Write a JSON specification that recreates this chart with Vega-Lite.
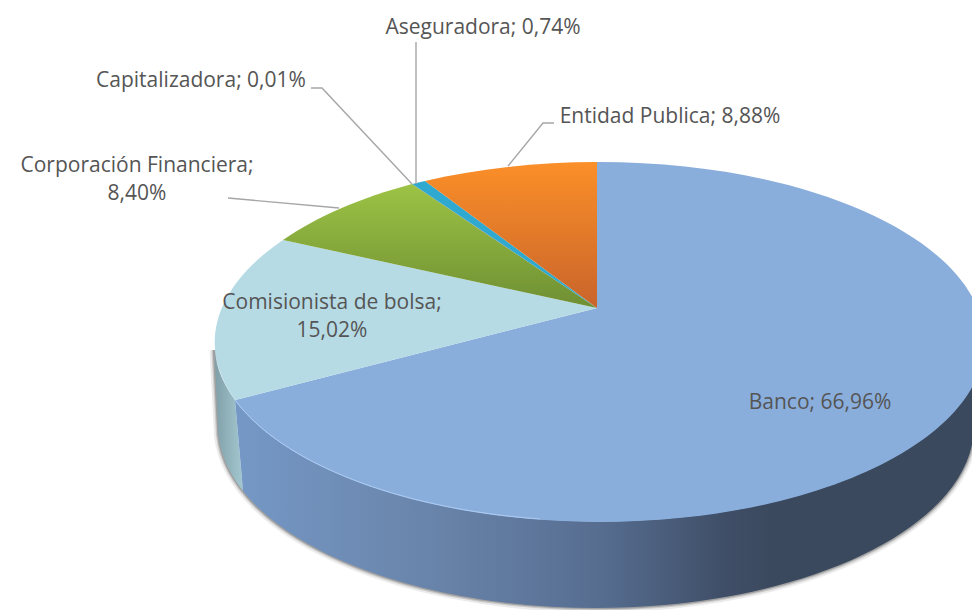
{"$schema":"https://vega.github.io/schema/vega-lite/v6.json","width":972,"height":610,"autosize":{"type":"none"},"padding":0,"background":"#ffffff","config":{"view":{"stroke":null}},"datasets":{"porciones":[{"categoria":"Banco","porcentaje":66.96,"etiqueta":"Banco; 66,96%"},{"categoria":"Comisionista de bolsa","porcentaje":15.02,"etiqueta":"Comisionista de bolsa;\n15,02%"},{"categoria":"Corporación Financiera","porcentaje":8.40,"etiqueta":"Corporación Financiera;\n8,40%"},{"categoria":"Capitalizadora","porcentaje":0.01,"etiqueta":"Capitalizadora; 0,01%"},{"categoria":"Aseguradora","porcentaje":0.74,"etiqueta":"Aseguradora; 0,74%"},{"categoria":"Entidad Publica","porcentaje":8.88,"etiqueta":"Entidad Publica; 8,88%"}]},"data":{"name":"porciones"},"encoding":{"x":{"datum":0,"type":"quantitative","scale":{"domain":[0,972]},"axis":null},"y":{"datum":0,"type":"quantitative","scale":{"domain":[610,0]},"axis":null}},"layer":[
{"transform":[{"filter":"datum.categoria==='Banco'"}],"mark":{"type":"point","size":4,"opacity":1,"filled":false,"stroke":"#000000","strokeOpacity":0.08,"strokeWidth":9,"shape":"M974,426 A378,182 0 0 1 218,426 L214,350"}},
{"transform":[{"filter":"datum.categoria==='Banco'"}],"mark":{"type":"point","size":4,"opacity":1,"filled":false,"stroke":"#000000","strokeOpacity":0.14,"strokeWidth":5,"shape":"M974,426 A378,182 0 0 1 218,426 L214,350"}},
{"transform":[{"filter":"datum.categoria==='Banco'"}],"mark":{"type":"point","size":4,"opacity":1,"filled":false,"stroke":"#000000","strokeOpacity":0.2,"strokeWidth":2.5,"shape":"M974,426 A378,182 0 0 1 218,426 L214,350"}},
{"transform":[{"filter":"datum.categoria==='Comisionista de bolsa'"}],"mark":{"type":"point","size":4,"opacity":1,"filled":true,"stroke":null,"fill":{"gradient":"linear","x1":0,"y1":0,"x2":1,"y2":0,"stops":[{"offset":0,"color":"#7f9fa8"},{"offset":1,"color":"#a3c7d0"}]},"shape":"M214,342 A385,180 0 0 0 235,400 L243,491 A378,182 0 0 1 218,426 Z"}},
{"transform":[{"filter":"datum.categoria==='Banco'"}],"mark":{"type":"point","size":4,"opacity":1,"filled":true,"stroke":null,"fill":{"gradient":"linear","x1":0,"y1":0,"x2":1,"y2":0,"stops":[{"offset":0,"color":"#7598c6"},{"offset":0.25,"color":"#6a85ab"},{"offset":0.49,"color":"#566d90"},{"offset":0.65,"color":"#404f68"},{"offset":0.72,"color":"#3a495d"},{"offset":1,"color":"#3a495d"}]},"shape":"M235,400 A385,180 0 0 0 984,342 L974,426 A378,182 0 0 1 243,491 Z"}},
{"transform":[{"filter":"datum.categoria==='Banco'"}],"mark":{"type":"point","size":4,"opacity":1,"filled":true,"stroke":null,"fill":"#8aaedc","shape":"M597,308 L597,162 A385,180 0 1 1 235,400 Z"}},
{"transform":[{"filter":"datum.categoria==='Comisionista de bolsa'"}],"mark":{"type":"point","size":4,"opacity":1,"filled":true,"stroke":null,"fill":"#b7dbe5","shape":"M597,308 L235,400 A385,180 0 0 1 283,240 Z"}},
{"transform":[{"filter":"datum.categoria==='Corporación Financiera'"}],"mark":{"type":"point","size":4,"opacity":1,"filled":true,"stroke":null,"fill":{"gradient":"linear","x1":0,"y1":0,"x2":0,"y2":1,"stops":[{"offset":0,"color":"#9dc345"},{"offset":1,"color":"#6f8f33"}]},"shape":"M597,308 L283,240 A385,180 0 0 1 412,184 Z"}},
{"transform":[{"filter":"datum.categoria==='Capitalizadora'"}],"mark":{"type":"point","size":4,"opacity":1,"filled":true,"stroke":null,"fill":"#c0504d","shape":"M597,308 L412,184 L412.2,184 Z"}},
{"transform":[{"filter":"datum.categoria==='Aseguradora'"}],"mark":{"type":"point","size":4,"opacity":1,"filled":true,"stroke":null,"fill":"#2fa9cf","shape":"M597,308 L412.2,184 A385,180 0 0 1 425,181 Z"}},
{"transform":[{"filter":"datum.categoria==='Entidad Publica'"}],"mark":{"type":"point","size":4,"opacity":1,"filled":true,"stroke":null,"fill":{"gradient":"linear","x1":0,"y1":0,"x2":0,"y2":1,"stops":[{"offset":0,"color":"#fb8f28"},{"offset":1,"color":"#c9642b"}]},"shape":"M597,308 L425,181 A385,180 0 0 1 597,162 Z"}},
{"transform":[{"filter":"datum.categoria==='Banco'"}],"mark":{"type":"point","size":4,"opacity":1,"filled":false,"stroke":"#b4d2f6","strokeOpacity":0.8,"strokeWidth":1,"shape":"M235,400 A385,180 0 0 0 540,519"}},
{"transform":[{"filter":"datum.categoria==='Capitalizadora'"}],"mark":{"type":"point","size":4,"opacity":1,"filled":false,"stroke":"#a6a6a6","strokeWidth":1.4,"shape":"M311,88 L322,88 L412,184"}},
{"transform":[{"filter":"datum.categoria==='Aseguradora'"}],"mark":{"type":"point","size":4,"opacity":1,"filled":false,"stroke":"#a6a6a6","strokeWidth":1.4,"shape":"M416,42 L416,184"}},
{"transform":[{"filter":"datum.categoria==='Entidad Publica'"}],"mark":{"type":"point","size":4,"opacity":1,"filled":false,"stroke":"#a6a6a6","strokeWidth":1.4,"shape":"M554,123 L543,123 L508,166"}},
{"transform":[{"filter":"datum.categoria==='Corporación Financiera'"}],"mark":{"type":"point","size":4,"opacity":1,"filled":false,"stroke":"#a6a6a6","strokeWidth":1.4,"shape":"M228,198 L339,208"}},
{"transform":[{"filter":"datum.categoria==='Banco'"}],"mark":{"type":"text","font":"Open Sans","fontSize":21,"fill":"#555555","align":"center","baseline":"middle"},"encoding":{"x":{"datum":820},"y":{"datum":403},"text":{"field":"etiqueta"}}},
{"transform":[{"filter":"datum.categoria==='Comisionista de bolsa'"}],"mark":{"type":"text","font":"Open Sans","fontSize":21,"fill":"#555555","align":"center","baseline":"middle","lineBreak":"\n","lineHeight":28},"encoding":{"x":{"datum":332},"y":{"datum":303},"text":{"field":"etiqueta"}}},
{"transform":[{"filter":"datum.categoria==='Corporación Financiera'"}],"mark":{"type":"text","font":"Open Sans","fontSize":21,"fill":"#555555","align":"center","baseline":"middle","lineBreak":"\n","lineHeight":28},"encoding":{"x":{"datum":137},"y":{"datum":166},"text":{"field":"etiqueta"}}},
{"transform":[{"filter":"datum.categoria==='Capitalizadora'"}],"mark":{"type":"text","font":"Open Sans","fontSize":21,"fill":"#555555","align":"center","baseline":"middle"},"encoding":{"x":{"datum":201},"y":{"datum":81},"text":{"field":"etiqueta"}}},
{"transform":[{"filter":"datum.categoria==='Aseguradora'"}],"mark":{"type":"text","font":"Open Sans","fontSize":21,"fill":"#555555","align":"center","baseline":"middle"},"encoding":{"x":{"datum":483},"y":{"datum":28},"text":{"field":"etiqueta"}}},
{"transform":[{"filter":"datum.categoria==='Entidad Publica'"}],"mark":{"type":"text","font":"Open Sans","fontSize":21,"fill":"#555555","align":"center","baseline":"middle"},"encoding":{"x":{"datum":670},"y":{"datum":117},"text":{"field":"etiqueta"}}}
]}
